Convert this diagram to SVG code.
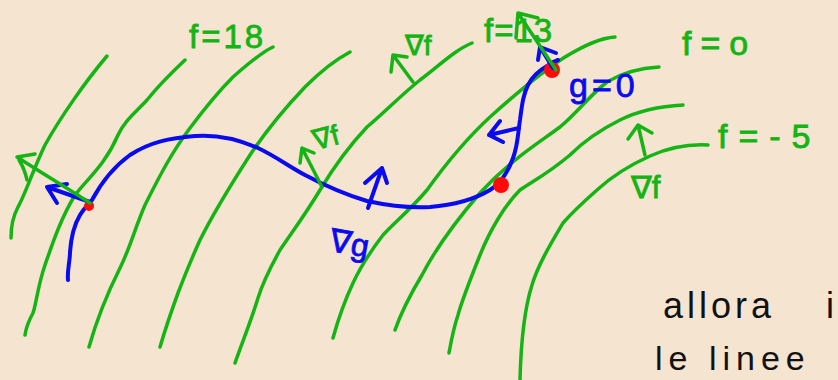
<svg xmlns="http://www.w3.org/2000/svg" width="838" height="380" viewBox="0 0 838 380">
<style>
.bg{fill:#F5E4CF}
.lv{fill:none;stroke:#14B414;stroke-width:3.5;stroke-linecap:round;stroke-linejoin:round}
.gc{fill:none;stroke:#0A0AF0;stroke-width:4;stroke-linecap:round;stroke-linejoin:round}
.gt{fill:#14B414;stroke:#14B414;stroke-width:0.8;font-family:"Liberation Sans","DejaVu Sans",sans-serif}
.bt{fill:#0A0AF0;stroke:#0A0AF0;stroke-width:0.8;font-family:"Liberation Sans","DejaVu Sans",sans-serif}
.kt{fill:#111;font-family:"Liberation Sans","DejaVu Sans",sans-serif}
.pt{fill:#FF0A0A}
</style>
<rect class="bg" x="0" y="0" width="838" height="380"/>
<g id="level-curves">
<path class="lv" d="M107,56 C85,82 60,118 45,145 C33,170 25,195 18,207 C12,218 11,228 11,238"/>
<path class="lv" d="M185,60 C168,76 155,90 147,100 C135,113 125,120 118,135 C105,165 88,178 75,195 C60,220 52,245 45,265 C38,285 36,305 33,313 C28,322 26,328 25,335"/>
<path class="lv" d="M273,47 C262,52 250,62 233,77 C215,95 205,108 190,128 C172,152 160,175 145,205 C135,228 130,248 120,268 C108,292 98,315 89,347"/>
<path class="lv" d="M350,52 C335,60 320,72 305,87 C285,108 268,128 250,155 C232,183 215,210 200,240 C190,262 183,280 178,293 C170,315 165,330 160,347"/>
<path class="lv" d="M472,43 C455,50 440,65 420,80 C400,96 385,112 367,127 C350,145 335,165 320,190 C305,215 290,235 280,250 C270,268 262,285 258,298 C252,318 245,335 235,363"/>
<path class="lv" d="M615,37 C600,38 585,45 565,57 C545,70 520,90 490,117 C465,140 445,165 427,190 C410,210 395,222 383,235 C370,252 360,268 353,283 C345,300 338,320 333,338"/>
<path class="lv" d="M659,67 C640,68 622,73 607,82 C590,95 578,112 560,127 C540,142 510,160 480,193 C455,222 435,250 422,275 C410,295 402,310 395,330"/>
<path class="lv" d="M683,105 C665,106 640,110 620,120 C600,130 585,140 570,155 C550,172 535,180 520,190 C505,205 490,230 480,255 C470,280 462,300 458,315 C453,330 451,342 449,353"/>
<path class="lv" d="M708,145 C690,144 668,148 650,156 C630,165 610,178 597,190 C580,205 570,215 563,223 C550,245 538,265 532,285 C524,310 521,340 520,380"/>
</g>
<g id="constraint-curve">
<path class="gc" d="M68,280 C67,270 70,262 70,252 C71,238 74,225 80,215 C84,208 88,205 92,200 C100,185 112,168 130,155 C150,142 170,138 195,136 C220,134 240,140 258,148 C275,156 290,167 305,175 C320,183 340,193 367,201 C390,206 410,208 430,207 C455,205 475,199 490,190 C500,184 508,172 513,158 C518,145 518,132 520,120 C522,105 523,95 528,85 C533,75 540,70 547,66 C551,63 555,61 558,60"/>
</g>
<g id="points">
<circle class="pt" cx="89" cy="206" r="5"/>
<circle class="pt" cx="501" cy="185" r="8"/>
<circle class="pt" cx="552" cy="70" r="8"/>
</g>
<g id="arrows">
<g id="grad-g-left">
<path class="gc" d="M90,202 L47,187 M67,184 L47,187 L57,203"/>
</g>
<g id="grad-f-left">
<path class="lv" d="M90,203 C70,190 45,175 17,157 M17,157 L35,154 M19,160 C24,168 26,175 27,180"/>
</g>
<g id="grad-f-mid">
<path class="lv" d="M322,187 L302,148 M300,163 L302,148 L314,153"/>
</g>
<g id="grad-g-mid">
<path class="gc" d="M368,208 L382,168 M365,183 L382,168 L387,183"/>
</g>
<g id="grad-f-top">
<path class="lv" d="M413,82 L393,55 M391,72 L393,55 L407,57"/>
</g>
<g id="grad-g-right">
<path class="gc" d="M519,128 L489,135 M500,121 L489,135 L503,142"/>
</g>
<g id="grad-g-top">
<path class="gc" d="M553,68 L540,47 M538,60 L540,47 L556,53"/>
</g>
<g id="grad-f-top-right">
<path class="lv" d="M556,70 L518,13 M516,38 L518,13 L538,18"/>
</g>
<g id="grad-f-right">
<path class="lv" d="M645,155 L638,125 M628,139 L638,125 L652,133"/>
</g>
</g>
<g id="labels">
<text class="gt" x="189" y="48" font-size="33" letter-spacing="3">f=18</text>
<text class="gt" x="405" y="55" font-size="28">∇f</text>
<text class="gt" x="484" y="42" font-size="33" letter-spacing="1">f=13</text>
<text class="gt" x="682" y="55" font-size="34" letter-spacing="9">f=o</text>
<text class="gt" x="718" y="148" font-size="34" letter-spacing="11">f=-5</text>
<text class="gt" x="631" y="198" font-size="31">∇f</text>
<text class="gt" x="312" y="146" font-size="28" transform="rotate(-15 330 135)">∇f</text>
<text class="bt" x="330" y="254" font-size="32" transform="rotate(10 348 243)">∇g</text>
<text class="bt" x="569" y="97" font-size="34" letter-spacing="4">g=0</text>
<text class="kt" x="663" y="318" font-size="36" letter-spacing="4">allora</text>
<text class="kt" x="826" y="318" font-size="36">i</text>
<text class="kt" x="655" y="370" font-size="34" letter-spacing="6">le linee</text>
</g>
</svg>
